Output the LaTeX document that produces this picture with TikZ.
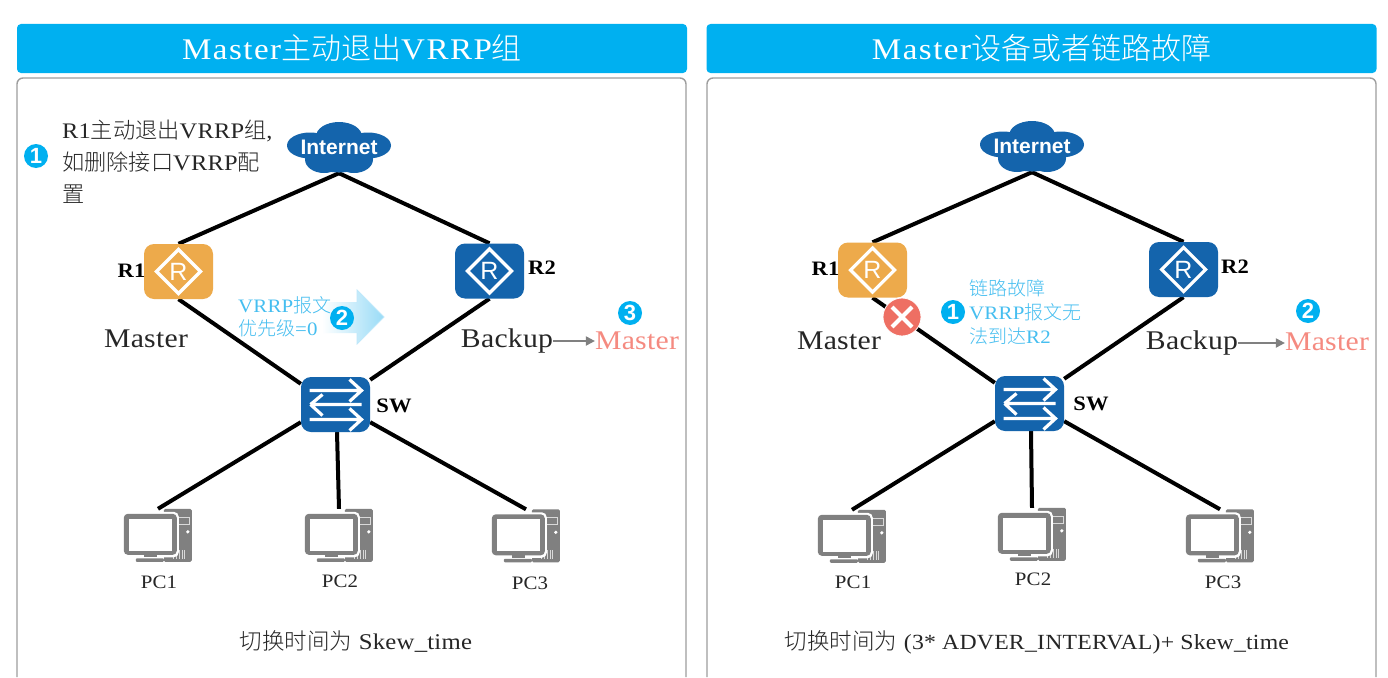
\documentclass[tikz,border=0pt]{standalone}
\usepackage{fontspec}
\setmainfont{Liberation Serif}[FakeStretch=1.1,LetterSpace=1]
\setsansfont{Liberation Sans}
\newfontfamily\zhfont{Noto Sans CJK SC Light}
\newfontfamily\titlefont{Liberation Serif}[FakeStretch=1.1,LetterSpace=5]
\newcommand\zh[1]{{\zhfont #1}}
\usetikzlibrary{backgrounds,calc,arrows.meta,shapes.geometric}
\definecolor{headblue}{HTML}{00B0F0}
\definecolor{netblue}{HTML}{1464AC}
\definecolor{routerorange}{HTML}{EDAA4B}
\definecolor{lightblue}{HTML}{45BEF0}
\definecolor{rolered}{HTML}{F58A80}
\definecolor{crossred}{HTML}{EE6F63}
\definecolor{pcgray}{HTML}{808080}
\definecolor{inkdark}{HTML}{262626}
\newcommand\fs[1]{\fontsize{#1}{#1}\selectfont}
\tikzset{
  header/.style={fill=headblue,draw=none,rounded corners=4pt,minimum width=670pt,minimum height=49pt,
    inner sep=0pt,text=white,font=\titlefont\fs{30}},
  frame/.style={draw=black!38,line width=1.4pt,rounded corners=6pt},
  link/.style={black,line width=4pt},
  devbox/.style={rounded corners=10pt,minimum width=69pt,minimum height=55pt,inner sep=0pt},
  devlabel/.style={inner sep=0pt,text=black,font=\fs{20.5}\bfseries},
  role/.style={inner sep=0pt,text=inkdark,font=\fs{27}},
  newrole/.style={inner sep=0pt,text=rolered,font=\fs{27}},
  pclabel/.style={inner sep=0pt,text=inkdark,font=\fs{19}},
  note/.style={inner sep=0pt,text=inkdark,font=\fs{22.2}},
  bluenote/.style={inner sep=0pt,text=lightblue,font=\fs{19},align=left},
  caption/.style={inner sep=0pt,text=inkdark,font=\fs{22.5}},
  badge/.style={circle,fill=headblue,minimum size=24pt,inner sep=0pt,text=white,font=\sffamily\bfseries\fs{22}},
  rolearrow/.style={-{Triangle[length=9pt,width=9pt]},pcgray,line width=2pt},
  pcbox/.style={minimum width=68pt,minimum height=53pt,inner sep=0pt},
  cloudbox/.style={minimum width=104pt,minimum height=51pt,inner sep=0pt,text=white,font=\sffamily\bfseries\fs{21}}
}
% Router: rounded square with a white diamond and the letter R
\newcommand\router[3]{%
  \node[devbox,fill=#3] (#1) at (#2) {};
  \draw[white,line width=3.2pt,line join=miter] ($(#1)+(-22,0)$) -- ($(#1)+(0,-22)$) -- ($(#1)+(22,0)$) -- ($(#1)+(0,22)$) -- cycle;
  \node[inner sep=0pt,text=white,font=\sffamily\fs{25}] (#1-mark) at (#1) {R};
}
% Switch: rounded square with three white arrows
\newcommand\switchbox[2]{%
  \node[devbox,fill=netblue] (#1) at (#2) {};
  \begin{scope}[shift={(#1.center)},white,line width=3.2pt]
    \draw (-26,-14) -- (26,-14) (14,-25) -- (26,-14) -- (14,-3);
    \draw (26,0) -- (-25,0) (-13,-10) -- (-25,0) (-13,11) -- (-25,0);
    \draw (-26,15) -- (26,15) (14,4) -- (26,15) -- (14,26);
  \end{scope}
}
% Desktop computer: monitor in front of a tower case
\newcommand\pcicon[2]{%
  \node[pcbox] (#1) at (#2) {};
  \begin{scope}[shift={(#1.north west)}]
    \fill[pcgray,rounded corners=1.5pt] (40,0) rectangle (68,53);
    \draw[white!85!black,line width=1pt] (53,8.5) rectangle (66,15.5);
    \fill[white] (64,23) circle (1.8);
    \draw[white!85!black,line width=0.9pt] (50,47) -- (50,50) (53,47) -- (53,50) (56,41) -- (56,50) (58.5,41) -- (58.5,50) (61,41) -- (61,50);
    \fill[white,rounded corners=5pt] (-2,3) rectangle (55,48.5);
    \fill[pcgray,rounded corners=4pt] (0,5) rectangle (53,46);
    \fill[white] (5,10) rectangle (48,42);
    \fill[pcgray] (20,46) rectangle (33,49);
    \fill[white] (8,48.5) rectangle (40,49.5);
    \fill[pcgray,rounded corners=1pt] (12,49.5) rectangle (40,53);
  \end{scope}
}
% Cloud outline built from overlapping ellipses
\newcommand\cloudshape[2]{%
  \node[cloudbox] (#1) at (#2) {};
  \begin{scope}[shift={(#1.center)}]
    \fill[netblue] (0,-11) ellipse (23 and 14.5);
    \fill[netblue] (-29,-2) ellipse (23 and 13);
    \fill[netblue] (29,-2) ellipse (23 and 13);
    \fill[netblue] (-15,12) ellipse (19 and 13.5);
    \fill[netblue] (15,12) ellipse (19 and 13.5);
    \fill[netblue] (0,3) ellipse (34 and 22);
  \end{scope}
  \node[cloudbox,minimum width=0pt,minimum height=0pt] (#1-text) at (#1) {Internet};
}
% Links of one network: all run behind their devices
\newcommand\network[1]{%
  \begin{scope}[on background layer]
    \draw[link] (#1r1.north) -- (#1cloud.south);
    \draw[link] (#1r2.north) -- (#1cloud.south);
    \draw[link] (#1r1.south) -- ([yshift=-7pt]#1sw.north west);
    \draw[link] (#1r2.south) -- ([yshift=-3pt]#1sw.north east);
    \draw[link] ([yshift=10pt]#1sw.south west) -- (#1pc1.north);
    \draw[link] ($(#1sw.south)+(1.5,0)$) -- (#1pc2.north);
    \draw[link] ([yshift=10pt]#1sw.south east) -- (#1pc3.north);
  \end{scope}
}
\begin{document}
\begin{tikzpicture}[x=1pt,y=-1pt]
\useasboundingbox (0,0) rectangle (1388,677);
\begin{scope}[on background layer]
  \fill[white] (0,0) rectangle (1388,677);
  \draw[frame] (17,677) -- (17,78) -- (686,78) -- (686,677);
  \draw[frame] (707,677) -- (707,78) -- (1376,78) -- (1376,677);
\end{scope}
\node[header] (headL) at (352,48.5) {Master\zh{主动退出}VRRP\zh{组}};
\node[header] (headR) at (1041.5,48.5) {Master\zh{设备或者链路故障}};

% Left network
\cloudshape{Lcloud}{339,147.5}
\router{Lr1}{178.5,271.5}{routerorange}
\router{Lr2}{489.5,271}{netblue}
\switchbox{Lsw}{335.5,404.5}
\pcicon{Lpc1}{158,535.5}
\pcicon{Lpc2}{339,535.5}
\pcicon{Lpc3}{526,536}
\network{L}

\node[badge] (Lb1) at (36,156) {1};
\node[note,anchor=north west,align=left] (Lnote) at (62,120) {R1\zh{主动退出}VRRP\zh{组},\\[9.8pt]\zh{如删除接口}VRRP\zh{配}\\[9.8pt]\zh{置}};
\node[devlabel] (Lr1t) at (131.5,271) {R1};
\node[devlabel] (Lr2t) at (542,268) {R2};
\node[devlabel] (Lswt) at (394,406) {SW};
\node[role] (Lm) at (146,339) {Master};
\node[role] (Lbk) at (507,341) {Backup};
\node[newrole] (Lnm) at (637,341) {Master};
\draw[rolearrow] (Lbk.east) -- (Lbk.east -| Lnm.west);
\node[badge] (Lb3) at (630,313) {3};

% Advertisement direction arrow
\shade[left color=white,right color=lightblue!55,draw=none] (322,302) -- (357,302) -- (357,290) -- (384,317) -- (357,344) -- (357,333) -- (322,333) -- cycle;
\draw[lightblue!35,line width=0.8pt] (357,302) -- (357,290) -- (384,317) -- (357,344) -- (357,333);
\node[bluenote,anchor=north west] (Lvrrp) at (238,296) {VRRP\zh{报文}\\[4pt]\zh{优先级}=0};
\node[badge] (Lb2) at (342,318) {2};

\node[pclabel] (Lpt1) at (159,582) {PC1};
\node[pclabel] (Lpt2) at (340,581) {PC2};
\node[pclabel] (Lpt3) at (530,583) {PC3};
\node[caption] (Lcap) at (356,642) {\zh{切换时间为} Skew\_time};

% Right network
\cloudshape{Rcloud}{1032,146.5}
\router{Rr1}{872.5,270}{routerorange}
\router{Rr2}{1183.5,269.5}{netblue}
\switchbox{Rsw}{1029.5,403.5}
\pcicon{Rpc1}{852,536.5}
\pcicon{Rpc2}{1032,534.5}
\pcicon{Rpc3}{1220,536}
\network{R}

\node[devlabel] (Rr1t) at (825.5,269) {R1};
\node[devlabel] (Rr2t) at (1235,267) {R2};
\node[devlabel] (Rswt) at (1091,404) {SW};
\node[role] (Rm) at (839,341) {Master};
\node[role] (Rbk) at (1192,343) {Backup};
\node[newrole] (Rnm) at (1327,342) {Master};
\draw[rolearrow] (Rbk.east) -- (Rbk.east -| Rnm.west);
\node[badge] (Rb2) at (1308,311) {2};

\node[circle,fill=crossred,draw=white,line width=0.8pt,minimum size=38pt,inner sep=0pt] (Rx) at (902,317) {};
\draw[white,line width=4pt] ($(Rx)+(-10,-10)$) -- ($(Rx)+(10,10)$) ($(Rx)+(-10,10)$) -- ($(Rx)+(10,-10)$);
\node[badge] (Rb1) at (953,312) {1};
\node[bluenote,anchor=north west] (Rfail) at (969,279) {\zh{链路故障}\\[5pt]VRRP\zh{报文无}\\[5pt]\zh{法到达}R2};

\node[pclabel] (Rpt1) at (853,582) {PC1};
\node[pclabel] (Rpt2) at (1033,579) {PC2};
\node[pclabel] (Rpt3) at (1223,582) {PC3};
\node[caption] (Rcap) at (1037,642) {\zh{切换时间为} {\fs{21.6}(3* ADVER\_INTERVAL)+ Skew\_time}};
\end{tikzpicture}
\end{document}
